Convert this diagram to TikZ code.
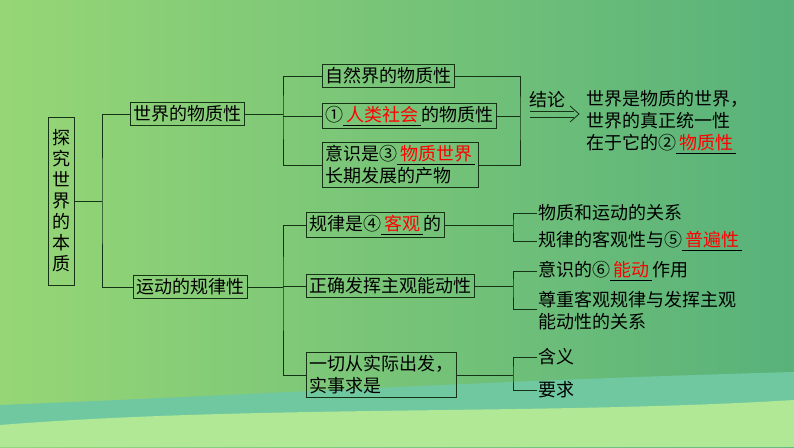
\documentclass[tikz,border=0pt]{standalone}
\usepackage{fontspec}
\setmainfont{Noto Sans CJK SC}
\usetikzlibrary{arrows.meta}
\definecolor{bgL}{RGB}{150,214,118}
\definecolor{bgR}{RGB}{88,178,122}
\definecolor{wave}{RGB}{112,200,160}
\definecolor{band}{RGB}{176,232,150}
\definecolor{linec}{RGB}{20,50,20}
\newcommand{\ans}[1]{\underline{\,\textcolor{red}{#1}\,}}
\tikzset{
  box/.style={draw=linec, thick, inner sep=3pt, align=left, font=\fontsize{18}{22}\selectfont},
  leaf/.style={inner sep=1pt, align=left, anchor=west, font=\fontsize{18}{22}\selectfont},
  wire/.style={-, thick, draw=linec}
}
\begin{document}
\begin{tikzpicture}[x=1pt, y=-1pt]
\useasboundingbox (0,0) rectangle (794,447);
\shade[left color=bgL, right color=bgR] (0,0) rectangle (794,447);
\fill[wave] (0,405) .. controls (250,395) and (500,380) .. (794,372) -- (794,447) -- (0,447) -- cycle;
\fill[band] (0,425) .. controls (250,405) and (550,415) .. (794,400) -- (794,447) -- (0,447) -- cycle;
\node[box, align=center, inner sep=4pt, minimum height=168pt, font=\fontsize{18}{21}\selectfont] (R) at (61,201) {探\\究\\世\\界\\的\\本\\质};
\node[box] (A) at (187,114) {世界的物质性};
\node[box] (B) at (190,287) {运动的规律性};
\node[box, anchor=west] (A1) at (322,76) {自然界的物质性};
\node[box, anchor=west] (A2) at (322,116) {①\ans{人类社会}的物质性};
\node[box, anchor=west] (A3) at (322,165) {意识是③\ans{物质世界}\\长期发展的产物};
\node[leaf] (C) at (528,100) {结论};
\node[leaf] (D) at (585,122) {世界是物质的世界，\\世界的真正统一性\\在于它的②\ans{物质性}};
\node[box, anchor=west] (B1) at (306,225) {规律是④\ans{客观}的};
\node[box, anchor=west] (B2) at (306,286) {正确发挥主观能动性};
\node[box, anchor=west] (B3) at (306,375) {一切从实际出发，\\实事求是};
\node[leaf] (L1) at (537,213) {物质和运动的关系};
\node[leaf] (L2) at (537,241) {规律的客观性与⑤\ans{普遍性}};
\node[leaf] (L3) at (537,271) {意识的⑥\ans{能动}作用};
\node[leaf] (L4) at (537,311) {尊重客观规律与发挥主观\\能动性的关系};
\node[leaf] (L5) at (537,357) {含义};
\node[leaf] (L6) at (537,390) {要求};
\coordinate (T) at (579,114);
% left tree
\draw[wire] (R.east) -- (102,201);
\draw[wire] (A.west) -| (102,201) |- (B.west);
\draw[wire] (A.east) -- (283,114);
\draw[wire] (A1.west) -| (283,114) |- (A3.west);
\draw[wire] (283,116) -- (A2.west);
\draw[wire] (A1.east) -| (520,116) |- (A3.east);
\draw[wire] (A2.east) -- (520,116);
% conclusion arrow
\draw[wire] (530,111) -- (574,111) (530,117) -- (574,117);
\draw[wire] (570,106) -- (T) -- (570,122);
\draw[wire] (B.east) -- (283,287);
\draw[wire] (B1.west) -| (283,287) |- (B3.west);
\draw[wire] (283,286) -- (B2.west);
% right brackets
\draw[wire] (B1.east) -- (513,225);
\draw[wire] (L1.west) -| (513,225) |- (L2.west);
\draw[wire] (B2.east) -- (513,286);
\draw[wire] (L3.west) -| (513,286) |- (537,309);
\draw[wire] (B3.east) -- (513,375);
\draw[wire] (L5.west) -| (513,375) |- (L6.west);
\end{tikzpicture}
\end{document}
